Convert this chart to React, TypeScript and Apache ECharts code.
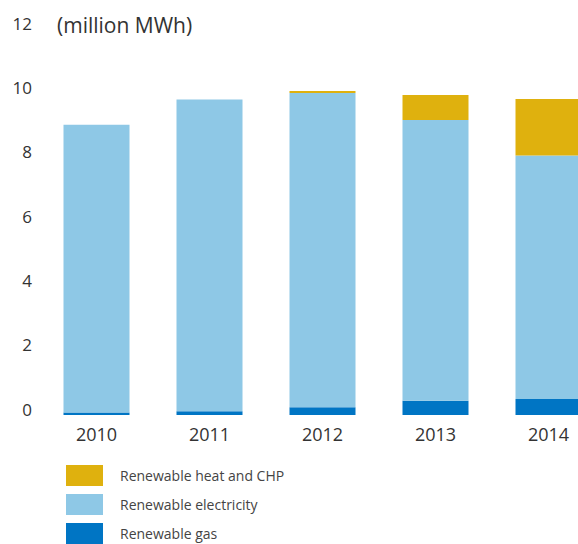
import React, { useEffect, useRef } from "react";
import * as echarts from "echarts";

const categories = ["2010", "2011", "2012", "2013", "2014"];
const gasValues = [0.08, 0.12, 0.24, 0.44, 0.5];
const electricityValues = [8.94, 9.69, 9.77, 8.73, 7.57];
const heatValues = [0, 0, 0.06, 0.78, 1.75];
const seriesNames = ["Renewable heat and CHP", "Renewable electricity", "Renewable gas"];
const unitLabel = "(million MWh)";

const FONT = "'Open Sans', sans-serif";

export default function App() {
  const ref = useRef<HTMLDivElement>(null);
  useEffect(() => {
    if (!ref.current) return;
    const chart = echarts.init(ref.current, undefined, { renderer: "svg" });
    chart.setOption({
      animation: false,
      backgroundColor: "#ffffff",
      textStyle: { fontFamily: FONT },
      graphic: [
        {
          type: "text",
          left: 57,
          top: 14,
          style: { text: unitLabel, fontSize: 21, fill: "#333333", fontFamily: FONT },
        },
      ],
      legend: {
        data: seriesNames,
        orient: "vertical",
        left: 66,
        top: 465,
        height: 120,
        padding: 0,
        itemWidth: 37,
        itemHeight: 21,
        itemGap: 8,
        icon: "rect",
        textStyle: { fontSize: 14, color: "#444444", fontFamily: FONT, padding: [0, 0, 0, 12] },
      },
      grid: {
        left: 40,
        top: 29,
        width: 565,
        bottom: 129,
        containLabel: false,
        outerBoundsMode: "none",
      },
      xAxis: {
        type: "category",
        data: categories,
        axisLine: { show: false },
        axisTick: { show: false },
        axisLabel: { fontSize: 18, color: "#333333", margin: 10, fontFamily: FONT },
      },
      yAxis: {
        type: "value",
        min: 0,
        max: 12,
        interval: 2,
        splitLine: { show: false },
        axisLine: { show: false },
        axisTick: { show: false },
        axisLabel: {
          fontSize: 17,
          color: "#333333",
          margin: 8,
          verticalAlign: "bottom",
          lineHeight: 12,
          fontFamily: FONT,
        },
      },
      series: [
        {
          name: seriesNames[2],
          type: "bar",
          stack: "total",
          barWidth: 66,
          data: gasValues,
          itemStyle: { color: "#0075C4" },
        },
        {
          name: seriesNames[1],
          type: "bar",
          stack: "total",
          barWidth: 66,
          data: electricityValues,
          itemStyle: { color: "#8EC8E6" },
        },
        {
          name: seriesNames[0],
          type: "bar",
          stack: "total",
          barWidth: 66,
          data: heatValues,
          itemStyle: { color: "#DFB10E" },
        },
      ],
    });
    return () => chart.dispose();
  }, []);
  return (
    <div
      ref={ref}
      style={{ position: "fixed", left: 0, top: 0, width: 578, height: 544, overflow: "hidden" }}
    />
  );
}
